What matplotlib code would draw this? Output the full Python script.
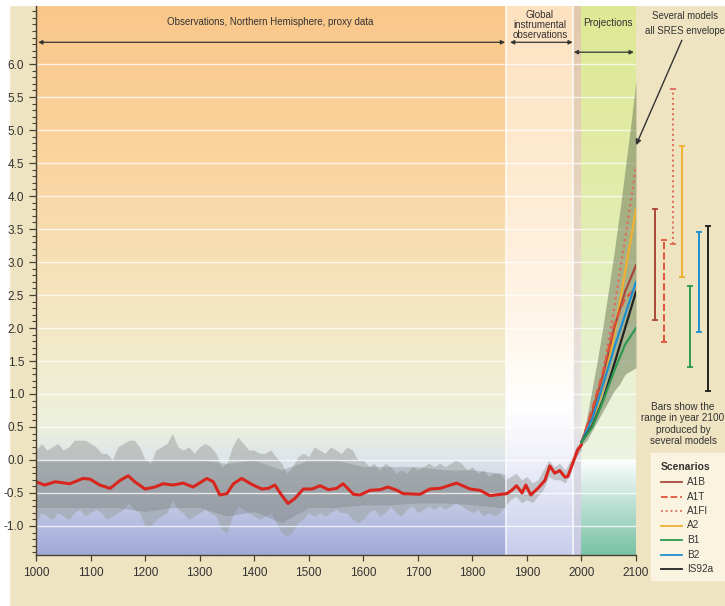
import matplotlib
matplotlib.use('Agg')
import matplotlib.pyplot as plt
import numpy as np
from matplotlib.patches import Rectangle
from matplotlib.ticker import MultipleLocator, FormatStrFormatter

plt.rcParams['font.family'] = 'Liberation Sans'
plt.rcParams['axes.unicode_minus'] = False

# ---- data ----
red_years = [1000, 1016, 1035, 1053, 1062, 1086, 1099, 1117, 1136, 1154, 1169, 1181,
             1200, 1218, 1233, 1251, 1270, 1288, 1313, 1325, 1337, 1350, 1362, 1377,
             1398, 1414, 1426, 1438, 1450, 1462, 1475, 1490, 1506, 1521, 1536, 1551,
             1563, 1582, 1594, 1612, 1631, 1645, 1662, 1673, 1704, 1722, 1741, 1771,
             1796, 1814, 1832, 1863, 1872, 1881, 1891, 1898, 1907, 1920, 1933, 1942,
             1951, 1960, 1970, 1975, 1984, 1993, 2000]
red_vals = [-0.33, -0.38, -0.33, -0.35, -0.36, -0.28, -0.29, -0.38, -0.43, -0.31, -0.24, -0.33,
            -0.44, -0.41, -0.36, -0.38, -0.35, -0.41, -0.28, -0.33, -0.53, -0.51, -0.36, -0.28,
            -0.38, -0.44, -0.43, -0.38, -0.53, -0.66, -0.58, -0.44, -0.44, -0.39, -0.45, -0.43,
            -0.36, -0.52, -0.53, -0.46, -0.45, -0.41, -0.46, -0.51, -0.52, -0.44, -0.43, -0.35,
            -0.44, -0.46, -0.54, -0.51, -0.46, -0.39, -0.50, -0.38, -0.53, -0.43, -0.31, -0.09,
            -0.20, -0.16, -0.26, -0.25, -0.05, 0.15, 0.23]

band_years = list(range(1000, 2001, 10))
band_upper = [0.15, 0.25, 0.15, 0.20, 0.25, 0.15, 0.20, 0.30, 0.30, 0.30,
              0.25, 0.20, 0.10, 0.10, 0.00, 0.20, 0.25, 0.30, 0.30, 0.20,
              0.00, -0.05, 0.15, 0.20, 0.25, 0.40, 0.20, 0.15, 0.20, 0.10,
              0.20, 0.25, 0.20, 0.10, -0.10, -0.05, 0.20, 0.35, 0.25, 0.15,
              0.15, 0.10, 0.10, 0.15, 0.05, -0.05, -0.20, -0.10, 0.05, 0.10,
              0.05, 0.20, 0.15, 0.10, 0.20, 0.15, 0.10, 0.20, 0.15, 0.00,
              0.00, -0.10, -0.05, -0.15, -0.05, -0.10, -0.20, -0.15, -0.20, -0.10,
              -0.15, -0.10, -0.05, -0.10, -0.05, -0.10, -0.05, 0.00, -0.05, -0.15,
              -0.10, -0.20, -0.15, -0.25, -0.20, -0.20,
              -0.30, -0.25, -0.20, -0.30, -0.25, -0.35, -0.30, -0.15, 0.00, -0.10,
              -0.05, -0.15, 0.00, 0.20, 0.30]
band_lower = [-0.95, -0.80, -0.85, -0.90, -0.80, -0.85, -0.90, -0.80, -0.75, -0.85,
              -0.80, -0.75, -0.80, -0.90, -0.85, -0.80, -0.75, -0.65, -0.75, -0.80,
              -1.00, -1.00, -0.90, -0.85, -0.80, -0.60, -0.75, -0.80, -0.90, -0.85,
              -0.80, -0.75, -0.80, -0.85, -1.05, -1.10, -0.85, -0.70, -0.75, -0.80,
              -0.85, -0.90, -0.85, -0.80, -0.95, -1.10, -1.15, -1.10, -0.95, -0.90,
              -0.80, -0.85, -0.80, -0.85, -0.80, -0.75, -0.80, -0.80, -0.90, -0.95,
              -0.90, -0.80, -0.75, -0.85, -0.80, -0.70, -0.80, -0.85, -0.75, -0.70,
              -0.80, -0.75, -0.70, -0.75, -0.70, -0.75, -0.70, -0.65, -0.70, -0.75,
              -0.80, -0.75, -0.85, -0.80, -0.85, -0.80,
              -0.70, -0.60, -0.55, -0.65, -0.60, -0.65, -0.55, -0.45, -0.25, -0.30,
              -0.30, -0.35, -0.20, 0.05, 0.15]

inner_years = [1000, 1050, 1100, 1150, 1200, 1250, 1300, 1350, 1400, 1450,
               1500, 1550, 1600, 1650, 1700, 1750, 1800, 1850, 1862]
inner_upper = [0.0, 0.0, 0.0, 0.0, 0.0, 0.0, 0.0, -0.05, 0.0, -0.15,
               0.0, 0.0, -0.10, -0.10, -0.10, -0.15, -0.15, -0.20, -0.22]
inner_lower = [-0.72, -0.72, -0.72, -0.72, -0.78, -0.72, -0.72, -0.85, -0.78, -0.95,
               -0.72, -0.72, -0.68, -0.68, -0.65, -0.65, -0.68, -0.72, -0.72]

env_years = list(range(2000, 2101, 10))
env_upper = [0.27, 0.65, 1.10, 1.55, 2.05, 2.60, 3.15, 3.75, 4.40, 5.05, 5.75]
env_lower = [0.22, 0.30, 0.45, 0.60, 0.75, 0.90, 1.05, 1.15, 1.30, 1.35, 1.40]

proj_years = [2000, 2020, 2040, 2060, 2080, 2100]
scenarios = ['A1B', 'A1T', 'A1FI', 'A2', 'B1', 'B2', 'IS92a']
proj = {
    'A1FI':  [0.27, 0.70, 1.35, 2.30, 3.35, 4.45],
    'A2':    [0.27, 0.58, 1.10, 1.90, 2.85, 3.80],
    'A1B':   [0.27, 0.72, 1.30, 2.00, 2.55, 2.95],
    'A1T':   [0.27, 0.78, 1.35, 2.05, 2.45, 2.60],
    'B2':    [0.27, 0.62, 1.15, 1.70, 2.20, 2.70],
    'IS92a': [0.27, 0.52, 0.92, 1.45, 2.00, 2.55],
    'B1':    [0.27, 0.50, 0.90, 1.35, 1.75, 2.00],
}
range_low = [2.12, 1.79, 3.27, 2.77, 1.41, 1.94, 1.05]
range_high = [3.80, 3.33, 5.62, 4.76, 2.64, 3.46, 3.55]

colors = {'A1B': '#a9483a', 'A1T': '#e0553a', 'A1FI': '#e06a5a', 'A2': '#f0b030',
          'B1': '#2e9a50', 'B2': '#1e90d0', 'IS92a': '#222222'}
styles = {'A1B': '-', 'A1T': '--', 'A1FI': ':', 'A2': '-', 'B1': '-', 'B2': '-', 'IS92a': '-'}

W, H = 725, 606
def fx(px):
    return px / W
def fy(py):
    return 1 - py / H

fig = plt.figure(figsize=(7.25, 6.06), dpi=100)
fig.patch.set_facecolor('#efe4c1')
# thin white margin on top and left, as in the scanned original
fig.patches.append(Rectangle((0, 0), fx(9), 1, transform=fig.transFigure, color='white', zorder=-5))
fig.patches.append(Rectangle((0, fy(5)), 1, 5 / H, transform=fig.transFigure, color='white', zorder=-5))

ax = fig.add_axes([fx(36), 51 / H, 600 / W, 549 / H])
ax.set_zorder(2)
ax.set_facecolor('none')
YLO, YHI = -1.44, 6.88

def gradient(x0, x1, stops):
    ys = np.linspace(YLO, YHI, 500)
    sv = [s[0] for s in stops]
    col = np.stack([np.interp(ys, sv, [s[1][i] / 255 for s in stops]) for i in range(3)], axis=-1)
    ax.imshow(col[:, None, :], extent=[x0, x1, YLO, YHI], origin='lower',
              aspect='auto', zorder=0, interpolation='bilinear')

gradient(1000, 1862, [(YLO, (160, 170, 215)), (-1.0, (180, 188, 224)), (0.0, (222, 228, 234)),
                      (0.5, (236, 240, 220)), (1.5, (241, 236, 206)), (3.0, (247, 224, 182)),
                      (4.5, (250, 212, 160)), (YHI, (251, 199, 138))])
gradient(1862, 1985, [(YLO, (200, 205, 236)), (0.0, (240, 240, 250)), (0.8, (255, 255, 255)),
                      (2.0, (255, 246, 234)), (4.0, (254, 236, 212)), (YHI, (253, 226, 192))])
gradient(1985, 2000, [(YLO, (198, 200, 226)), (0.5, (230, 228, 230)), (3.0, (232, 216, 200)),
                      (YHI, (226, 200, 172))])
gradient(2000, 2100, [(YLO, (120, 194, 165)), (-0.25, (228, 242, 238)), (-0.01, (252, 254, 252)),
                      (0.01, (236, 244, 226)), (2.0, (230, 240, 200)), (4.0, (226, 236, 172)),
                      (YHI, (222, 232, 148))])

# grid and boundaries
for v in np.arange(-1.0, 6.01, 0.5):
    ax.axhline(v, color='white', lw=1.0, alpha=0.75, zorder=1.5)
for xb in (1862, 1985):
    ax.axvline(xb, color='white', lw=1.2, alpha=0.8, zorder=1.5)

# historical grey
ax.fill_between(band_years, band_lower, band_upper, color='#9aa09c',
                alpha=0.5, lw=0, zorder=1)
ax.fill_between(inner_years, inner_lower, inner_upper, color='#6f7676',
                alpha=0.3, lw=0, zorder=1.1)
ax.plot(red_years, red_vals, color='#d8261e', lw=2.2, zorder=3, solid_capstyle='round')

# projections
ax.fill_between(env_years, env_lower, env_upper, color='#74805f', alpha=0.55, lw=0, zorder=2)
for name in ['A1FI', 'A2', 'A1B', 'A1T', 'B2', 'IS92a', 'B1']:
    ax.plot(proj_years, proj[name], color=colors[name], ls=styles[name], lw=1.6, zorder=3)

# year-2100 range bars
bar_x0, bar_dx = 2135, 16.2
for i, name in enumerate(scenarios):
    xb = bar_x0 + i * bar_dx
    ax.plot([xb, xb], [range_low[i], range_high[i]], color=colors[name], ls=styles[name],
            lw=1.4, clip_on=False, zorder=3)
    ax.plot([xb, xb], [range_low[i], range_high[i]], ls='none', marker='_', ms=5, mew=1.3,
            color=colors[name], clip_on=False, zorder=3)

ax.set_xlim(1000, 2100)
ax.set_ylim(YLO, YHI)
ax.set_xticks(range(1000, 2101, 100))
ax.yaxis.set_minor_locator(MultipleLocator(0.1))
ax.set_yticks([t for t in np.arange(-1.0, 6.01, 0.5)])
ax.yaxis.set_major_formatter(FormatStrFormatter('%.1f'))
for s in ('top', 'right'):
    ax.spines[s].set_visible(False)
for s in ('left', 'bottom'):
    ax.spines[s].set_color('#4a4030')
    ax.spines[s].set_linewidth(1.0)
    ax.spines[s].set_zorder(4)
ax.tick_params(which='major', direction='out', length=5, color='#4a4030', labelsize=8.5,
               labelcolor='#333333', width=0.9)
ax.tick_params(which='minor', direction='out', length=3, color='#4a4030', width=0.8)
ax.tick_params(axis='x', which='major', length=4, pad=5)

# annotations on top
tc = '#333333'
ax.text(1429, 6.64, 'Observations, Northern Hemisphere, proxy data', ha='center', va='center',
        fontsize=7, color=tc)
ax.text(1924, 6.59, 'Global\ninstrumental\nobservations', ha='center', va='center',
        fontsize=7, color=tc, linespacing=1.0)
ax.text(2049, 6.62, 'Projections', ha='center', va='center', fontsize=7.2, color=tc)
arrow_kw = dict(arrowstyle='<|-|>', color='#333333', lw=0.9, mutation_scale=6,
                shrinkA=0, shrinkB=0)
ax.annotate('', xy=(1004, 6.33), xytext=(1860, 6.33), arrowprops=arrow_kw)
ax.annotate('', xy=(1869, 6.33), xytext=(1984, 6.33), arrowprops=arrow_kw)
ax.annotate('', xy=(1986, 6.18), xytext=(2096, 6.18), arrowprops=arrow_kw)
ax.annotate('', xy=(2100, 4.77), xytext=(2184, 6.36), annotation_clip=False,
            arrowprops=dict(arrowstyle='-|>', color='#333333', lw=1.0, mutation_scale=8,
                            shrinkA=0, shrinkB=0))

fig.text(fx(685), fy(16), 'Several models', ha='center', va='center', fontsize=6.9, color=tc)
fig.text(fx(685), fy(31), 'all SRES envelope', ha='center', va='center', fontsize=6.9, color=tc)
for k, line in enumerate(['Bars show the', 'range in year 2100', 'produced by', 'several models']):
    fig.text(fx(683), fy(407 + 11.4 * k), line, ha='center', va='center', fontsize=7.2, color=tc)

# legend box
fig.patches.append(Rectangle((fx(651), fy(580)), fx(80), (580 - 453) / H,
                             transform=fig.transFigure, color='#faf3e0', zorder=1))
fig.text(fx(686), fy(467), 'Scenarios', ha='center', va='center', fontsize=7.5,
         fontweight='bold', color=tc)
for k, name in enumerate(scenarios):
    yy = fy(482 + 14.5 * k)
    fig.lines.append(plt.Line2D([fx(661), fx(682)], [yy, yy], transform=fig.transFigure,
                                color=colors[name], ls=styles[name], lw=1.3))
    fig.text(fx(687), yy, name, ha='left', va='center', fontsize=7.2, color=tc)

fig.savefig('out.png', dpi=100, facecolor=fig.get_facecolor())
